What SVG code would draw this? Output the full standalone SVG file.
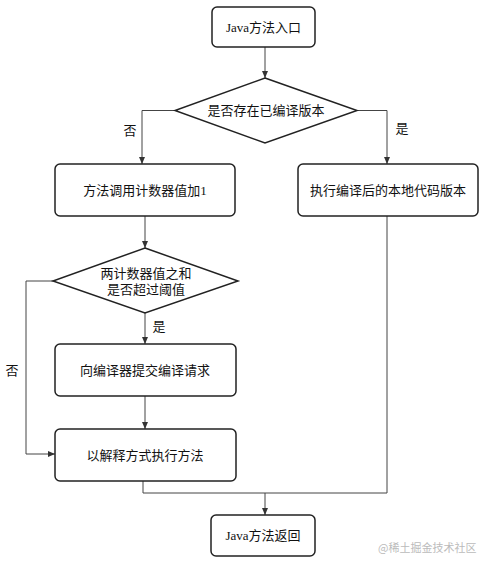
<svg xmlns="http://www.w3.org/2000/svg" width="484" height="570" viewBox="0 0 484 570">
<style>
.n{fill:#fff;stroke:#222;stroke-width:1.5}
.t{font-family:"Liberation Serif","Noto Sans CJK SC",serif;font-size:13px;fill:#111;text-anchor:middle;dominant-baseline:central}
.c{fill:none;stroke:#444;stroke-width:1}
.w{font-family:"Noto Sans CJK SC",sans-serif;font-size:11px;fill:#bbb}
</style>
<defs>
<marker id="a" markerWidth="8" markerHeight="8" refX="7" refY="4" orient="auto" markerUnits="userSpaceOnUse">
<path d="M0,1 L7,4 L0,7 Z" fill="#333"/>
</marker>
</defs>
<rect width="484" height="570" fill="#fff"/>
<g id="connectors">
<line class="c" x1="265" y1="47" x2="265" y2="78" marker-end="url(#a)"/>
<polyline class="c" points="175,110.5 142,110.5 142,164" marker-end="url(#a)"/>
<polyline class="c" points="357,110.5 387,110.5 387,164" marker-end="url(#a)"/>
<line class="c" x1="145" y1="216" x2="145" y2="248" marker-end="url(#a)"/>
<line class="c" x1="145" y1="313" x2="145" y2="344" marker-end="url(#a)"/>
<line class="c" x1="145" y1="396" x2="145" y2="429" marker-end="url(#a)"/>
<polyline class="c" points="53,281 26,281 26,454 55,454" marker-end="url(#a)"/>
<polyline class="c" points="143,481 143,493 387,493 387,216"/>
<line class="c" x1="265" y1="493" x2="265" y2="515" marker-end="url(#a)"/>
<text class="t" x="130" y="130">否</text>
<text class="t" x="402" y="128">是</text>
<text class="t" x="159" y="326">是</text>
<text class="t" x="12" y="370">否</text>
</g>
<g id="start">
<rect class="n" x="212" y="7" width="103" height="40" rx="5"/>
<text class="t" x="263.5" y="27">Java方法入口</text>
</g>
<g id="d1">
<polygon class="n" points="265,78 357,110.5 265,143 175,110.5"/>
<text class="t" x="266" y="110.5">是否存在已编译版本</text>
</g>
<g id="inc">
<rect class="n" x="55" y="164" width="180" height="52" rx="5"/>
<text class="t" x="145" y="190">方法调用计数器值加1</text>
</g>
<g id="native">
<rect class="n" x="298" y="164" width="180" height="52" rx="5"/>
<text class="t" x="388" y="190">执行编译后的本地代码版本</text>
</g>
<g id="d2">
<polygon class="n" points="145,248 238,281 145,313 53,281"/>
<text class="t" x="146" y="273">两计数器值之和</text>
<text class="t" x="146" y="289">是否超过阈值</text>
</g>
<g id="submit">
<rect class="n" x="55" y="344" width="181" height="52" rx="5"/>
<text class="t" x="145" y="370">向编译器提交编译请求</text>
</g>
<g id="interp">
<rect class="n" x="55" y="429" width="181" height="52" rx="5"/>
<text class="t" x="145" y="455">以解释方式执行方法</text>
</g>
<g id="end">
<rect class="n" x="211" y="515" width="104" height="41" rx="5"/>
<text class="t" x="263" y="535.5">Java方法返回</text>
</g>
<text class="w" x="378" y="552">@稀土掘金技术社区</text>
</svg>
